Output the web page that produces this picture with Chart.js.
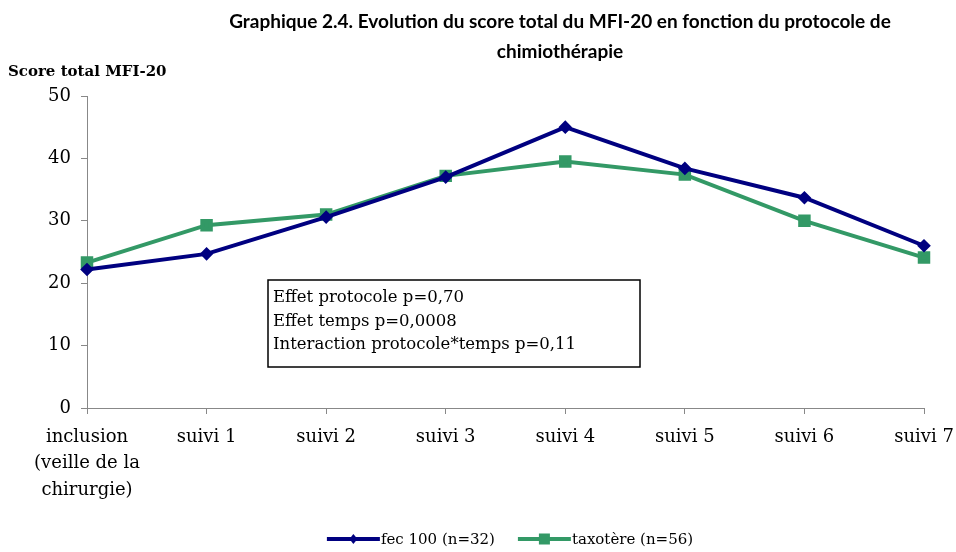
<!DOCTYPE html>
<html>
<head>
<meta charset="utf-8">
<script src="https://cdn.jsdelivr.net/npm/chart.js@4"></script>
<style>
  body { margin: 0; background: #fff; }
  #wrap { width: 956px; height: 552px; }
</style>
</head>
<body>
<div id="wrap"><canvas id="myChart"></canvas></div>
<script>
const labels = [
    ['inclusion', '(veille de la', 'chirurgie)'],
    'suivi 1', 'suivi 2', 'suivi 3', 'suivi 4', 'suivi 5', 'suivi 6', 'suivi 7'
];
const fec100 = [22.2, 24.7, 30.6, 37.0, 45.0, 38.4, 33.7, 26.0];
const taxotere = [23.3, 29.3, 31.0, 37.2, 39.5, 37.4, 30.0, 24.1];
const titleLines = [
    'Graphique 2.4. Evolution du score total du MFI-20 en fonction du protocole de',
    'chimiothérapie'
];
const yTitle = 'Score total MFI-20';
const statsText = [
    'Effet protocole p=0,70',
    'Effet temps p=0,0008',
    'Interaction protocole*temps p=0,11'
];

const serif = 'DejaVu Serif';

// title, y axis caption, stats box and legend are drawn by hand
const extras = {
    id: 'extras',
    afterDraw(chart) {
        const c = chart.ctx;
        const area = chart.chartArea;
        c.save();
        c.fillStyle = '#000';
        c.textAlign = 'center';
        c.textBaseline = 'middle';
        c.font = 'bold 19px Lato';
        c.fillText(titleLines[0], 560, 22);
        c.fillText(titleLines[1], 560, 52);

        c.textAlign = 'left';
        c.font = 'bold 15px ' + serif;
        c.fillText(yTitle, 8, 72);

        // stats box
        const bx = area.left + 181, by = area.top + 184;
        c.strokeStyle = '#000';
        c.lineWidth = 1.5;
        c.strokeRect(bx, by, 372, 87);
        c.font = '16.5px ' + serif;
        statsText.forEach((t, i) => c.fillText(t, bx + 5, by + 18 + i * 23.5));

        // legend: line with marker, then label
        c.font = '15px ' + serif;
        const sets = chart.data.datasets;
        const lineLen = 53, gap = 23;
        let total = 0;
        sets.forEach((d, i) => { total += lineLen + 1 + c.measureText(d.label).width + (i ? gap : 0); });
        let x = 510 - total / 2;
        const ly = 539;
        sets.forEach((d) => {
            c.strokeStyle = d.borderColor;
            c.fillStyle = d.borderColor;
            c.lineWidth = 4;
            c.beginPath();
            c.moveTo(x, ly);
            c.lineTo(x + lineLen, ly);
            c.stroke();
            const mx = x + lineLen / 2;
            if (d.pointStyle === 'rect') {
                c.fillRect(mx - 5.5, ly - 5.5, 11, 11);
            } else {
                c.beginPath();
                c.moveTo(mx, ly - 5); c.lineTo(mx + 4, ly); c.lineTo(mx, ly + 5); c.lineTo(mx - 4, ly);
                c.closePath();
                c.fill();
            }
            c.fillStyle = '#000';
            c.fillText(d.label, x + lineLen + 1, ly + 1);
            x += lineLen + 1 + c.measureText(d.label).width + gap;
        });
        c.restore();
    }
};

const ctx = document.getElementById('myChart').getContext('2d');
const myChart = new Chart(ctx, {
    type: 'line',
    data: {
        labels: labels,
        datasets: [{
            label: 'fec 100 (n=32)',
            data: fec100,
            borderColor: '#000080',
            backgroundColor: '#000080',
            borderWidth: 4,
            pointStyle: 'rectRot',
            pointRadius: 4,
            pointHoverRadius: 4
        }, {
            label: 'taxotère (n=56)',
            data: taxotere,
            borderColor: '#339966',
            backgroundColor: '#339966',
            borderWidth: 4,
            pointStyle: 'rect',
            pointRadius: 6,
            pointHoverRadius: 6
        }]
    },
    options: {
        responsive: true,
        maintainAspectRatio: false,
        animation: false,
        layout: { padding: { top: 96, left: 0, right: 0, bottom: 24 } },
        plugins: {
            title: { display: false },
            tooltip: { enabled: false },
            legend: { display: false }
        },
        scales: {
            x: {
                offset: false,
                afterFit: (s) => { s.height = 120; s.paddingRight = 32; },
                grid: { drawOnChartArea: false, drawTicks: true, tickLength: 6, color: '#888' },
                border: { color: '#888', width: 1 },
                ticks: { color: '#000', font: { family: serif, size: 18, lineHeight: 1.47 }, maxRotation: 0, autoSkip: false, padding: 10 }
            },
            y: {
                min: 0,
                max: 50,
                afterFit: (s) => { s.width = 87; },
                grid: { drawOnChartArea: false, drawTicks: true, tickLength: 6, color: '#888' },
                border: { color: '#888', width: 1 },
                ticks: { stepSize: 10, color: '#000', font: { family: serif, size: 18 }, padding: 10 }
            }
        }
    },
    plugins: [extras]
});
</script>
</body>
</html>
